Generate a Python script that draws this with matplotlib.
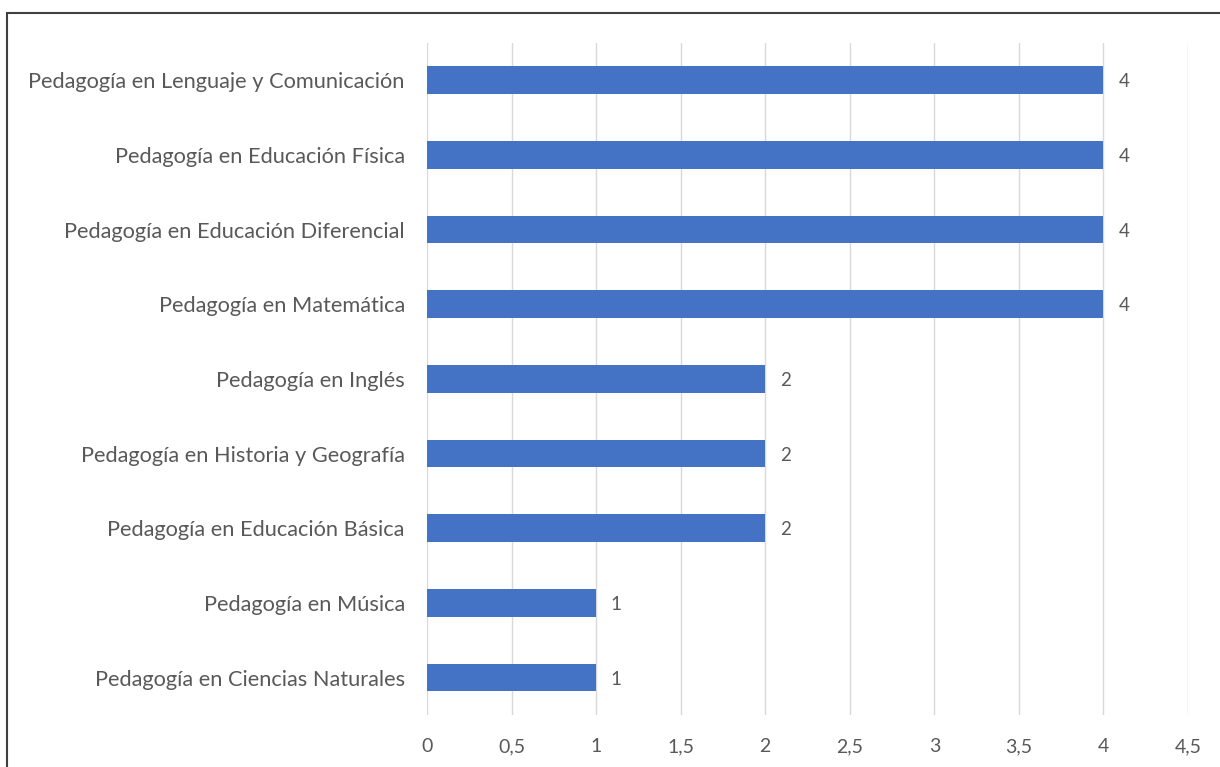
import matplotlib.pyplot as plt
from matplotlib.patches import Rectangle
from matplotlib.ticker import FuncFormatter

# categorias de abajo hacia arriba
carreras = ['Pedagogía en Ciencias Naturales', 'Pedagogía en Música',
            'Pedagogía en Educación Básica', 'Pedagogía en Historia y Geografía',
            'Pedagogía en Inglés', 'Pedagogía en Matemática',
            'Pedagogía en Educación Diferencial', 'Pedagogía en Educación Física',
            'Pedagogía en Lenguaje y Comunicación']
cantidad = [1, 1, 2, 2, 2, 4, 4, 4, 4]
ticks_x = [0, 0.5, 1, 1.5, 2, 2.5, 3, 3.5, 4, 4.5]

plt.rcParams['font.family'] = ['Lato', 'DejaVu Sans']
gris = '#595959'

fig = plt.figure(figsize=(12.2, 7.67), dpi=100)
ax = fig.add_axes([0.35, 0.068, 0.6238, 0.876])

ax.barh(carreras, cantidad, height=0.37, color='#4472C4', zorder=3)
for i, v in enumerate(cantidad):
    ax.text(v + 0.12, i, str(v), va='center_baseline', ha='center', fontsize=13.5, color=gris)

ax.set_xlim(0, 4.5)
ax.set_ylim(-0.5, len(carreras) - 0.5)
ax.set_xticks(ticks_x)
ax.xaxis.set_major_formatter(FuncFormatter(lambda x, p: ('%g' % x).replace('.', ',')))
ax.grid(axis='x', color='#d9d9d9', linewidth=1, zorder=0)
ax.tick_params(axis='y', length=0, labelsize=15.7, labelcolor=gris, pad=16)
ax.tick_params(axis='x', length=0, labelsize=14, labelcolor=gris, pad=17)
for s in ax.spines.values():
    s.set_visible(False)

# marco exterior (solo se ve arriba e izquierda)
fig.patches.append(Rectangle((7 / 1220, -0.1), 1.2, 1 - 13 / 767 + 0.1,
                             transform=fig.transFigure, fill=False,
                             edgecolor='#404040', linewidth=1.5))

fig.savefig('out.png', dpi=100)
